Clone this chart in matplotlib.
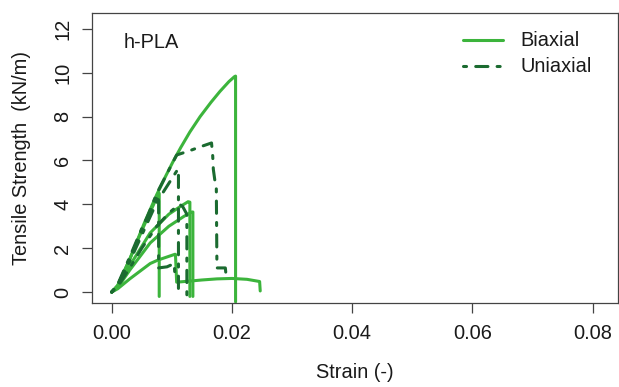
import matplotlib
matplotlib.use("Agg")
import matplotlib.pyplot as plt

plt.rcParams["font.family"] = ["Liberation Sans", "DejaVu Sans"]

# Biaxial specimens: strain (-) and tensile strength (kN/m)
biax_a_strain = [0.0, 0.001, 0.003, 0.0055, 0.0075, 0.009, 0.0102, 0.0115, 0.013, 0.0147,
                 0.0165, 0.018, 0.0195, 0.0204, 0.0206, 0.0206]
biax_a_load = [0.0, 0.3, 1.5, 3.2, 4.45, 5.3, 5.95, 6.6, 7.3, 8.0,
               8.65, 9.15, 9.6, 9.82, 9.85, -0.45]

biax_b_strain = [0.0, 0.001, 0.003, 0.005, 0.0078, 0.0079, 0.0079]
biax_b_load = [0.0, 0.3, 1.5, 2.8, 4.5, 4.5, -0.2]

biax_c_strain = [0.0, 0.001, 0.003, 0.0064, 0.0095, 0.0114, 0.0127, 0.0130, 0.0130]
biax_c_load = [0.0, 0.25, 1.2, 2.7, 3.55, 3.9, 4.12, 4.1, -0.2]

biax_d_strain = [0.0, 0.001, 0.003, 0.0064, 0.0095, 0.0120, 0.0133, 0.0135, 0.0135]
biax_d_load = [0.0, 0.2, 1.0, 2.24, 3.0, 3.45, 3.65, 3.65, -0.2]

biax_e_strain = [0.0, 0.001, 0.003, 0.0064, 0.0077, 0.0105, 0.0106, 0.0108, 0.0130,
                 0.0150, 0.0175, 0.0200, 0.0225, 0.0246, 0.0247]
biax_e_load = [0.0, 0.15, 0.6, 1.3, 1.46, 1.72, 1.72, 0.45, 0.5, 0.55, 0.6, 0.62, 0.58, 0.48, 0.05]

# Uniaxial specimens
uni_a_strain = [0.0, 0.001, 0.003, 0.005, 0.0075, 0.0108, 0.0130, 0.0150, 0.0166,
                0.0168, 0.0169, 0.0172, 0.0174, 0.0175, 0.0189, 0.0190]
uni_a_load = [0.0, 0.3, 1.5, 2.8, 4.5, 6.25, 6.45, 6.65, 6.8,
              6.2, 5.6, 5.0, 4.7, 1.1, 1.1, 0.8]

uni_b_strain = [0.0, 0.001, 0.003, 0.005, 0.0075, 0.0110, 0.0111, 0.0111]
uni_b_load = [0.0, 0.3, 1.4, 2.6, 4.1, 5.6, 5.6, -0.2]

uni_c_strain = [0.0, 0.001, 0.003, 0.005, 0.0077, 0.0078, 0.0078, 0.0092, 0.0104, 0.0105]
uni_c_load = [0.0, 0.35, 1.6, 2.9, 4.4, 4.4, 1.1, 1.15, 1.3, 0.8]

uni_d_strain = [0.0, 0.001, 0.003, 0.005, 0.0075, 0.0095, 0.0108, 0.0113, 0.0118, 0.0124, 0.0125, 0.0125]
uni_d_load = [0.0, 0.25, 1.1, 2.0, 3.0, 3.6, 3.9, 4.0, 3.9, 3.6, 3.5, -0.2]

biaxial = [(biax_a_strain, biax_a_load), (biax_b_strain, biax_b_load),
           (biax_c_strain, biax_c_load), (biax_d_strain, biax_d_load),
           (biax_e_strain, biax_e_load)]
uniaxial = [(uni_a_strain, uni_a_load), (uni_b_strain, uni_b_load),
            (uni_c_strain, uni_c_load), (uni_d_strain, uni_d_load)]

x_ticks = [0.00, 0.02, 0.04, 0.06, 0.08]
x_tick_labels = ["0.00", "0.02", "0.04", "0.06", "0.08"]
y_ticks = [0, 2, 4, 6, 8, 10, 12]

light_green = "#3cb43c"
dark_green = "#1b6b30"
text_col = "#1a1a1a"
lw = 2.2
fs = 14.4

W, H = 619, 387
fig = plt.figure(figsize=(W / 100, H / 100), dpi=100)
ax = fig.add_axes([92 / W, (H - 303) / H, (617.7 - 92) / W, (303 - 12.5) / H])

for i, (s, f) in enumerate(biaxial):
    ax.plot(s, f, color=light_green, lw=lw, solid_capstyle="round", solid_joinstyle="round",
            label="Biaxial" if i == 0 else None, zorder=2)
for i, (s, f) in enumerate(uniaxial):
    ax.plot(s, f, color=dark_green, lw=lw, linestyle=(0, (1, 3, 4, 3)),
            dash_capstyle="round", dash_joinstyle="round",
            label="Uniaxial" if i == 0 else None, zorder=3)

ax.set_xlim(-0.00328, 0.08416)
ax.set_ylim(-0.50, 12.75)

ax.set_xticks(x_ticks)
ax.set_xticklabels(x_tick_labels)
ax.set_yticks(y_ticks)
for lab in ax.get_yticklabels():
    lab.set_rotation(90)
    lab.set_va("center")

edge = "#444444"
for sp in ax.spines.values():
    sp.set_color(edge)
    sp.set_linewidth(0.9)
ax.tick_params(axis="both", direction="out", length=7.2, width=0.9, color=edge,
               labelsize=fs, labelcolor=text_col)
ax.tick_params(axis="x", pad=8)
ax.tick_params(axis="y", pad=7)

ax.set_xlabel("Strain (-)", fontsize=fs, color=text_col, va="center")
ax.xaxis.set_label_coords(0.5, -(373 - 303) / 290.5)
ax.set_ylabel("Tensile Strength  (kN/m)", fontsize=fs, color=text_col, va="center")
ax.yaxis.set_label_coords((22 - 92) / 525.7, 0.5)

ax.text(0.0019, 11.36, "h-PLA", fontsize=fs, color=text_col, ha="left", va="center")

leg = ax.legend(loc="upper left", bbox_to_anchor=((463 - 92) / 525.7, (303 - 31.5) / 290.5),
                frameon=False, fontsize=fs, handlelength=2.0, handletextpad=0.85,
                labelspacing=0.35, borderpad=0, borderaxespad=0)
for t in leg.get_texts():
    t.set_color(text_col)

fig.savefig("out.png", dpi=100)
